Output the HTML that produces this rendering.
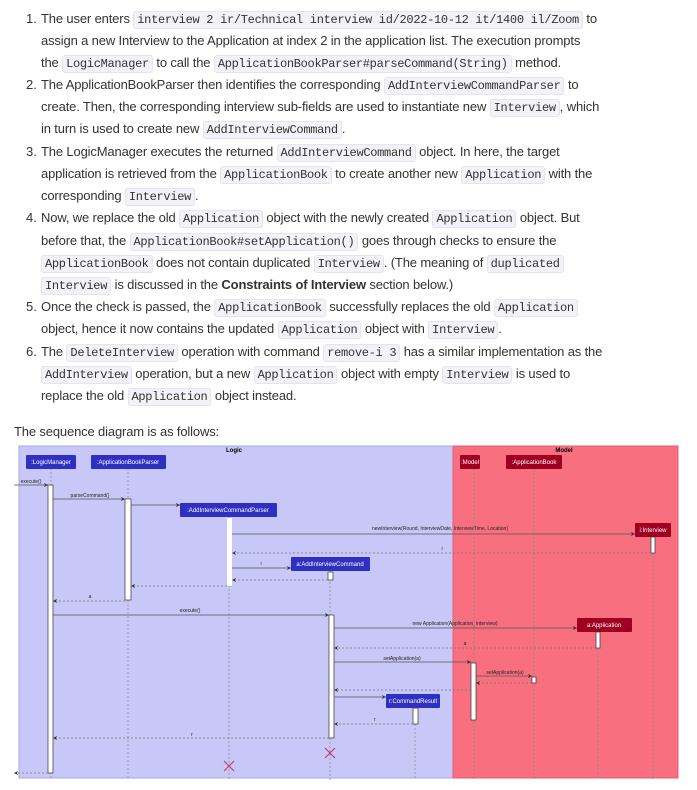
<!DOCTYPE html>
<html><head><meta charset="utf-8"><style>
body{margin:0;background:#fff;width:697px;height:790px;overflow:hidden;position:relative;font-family:"Liberation Sans",sans-serif;color:#333;}
.l{position:absolute;left:41px;font-size:13px;white-space:nowrap;line-height:16px;letter-spacing:-0.15px}
.n{position:absolute;left:26px;font-size:13px;line-height:16px}
code{font-family:"Liberation Mono",monospace;font-size:12px;background:#f2f2f8;border:1px solid #e4e4ee;border-radius:3px;padding:1px 3px;letter-spacing:-0.3px;color:#333}
</style></head><body>
<div class="n" style="top:11px">1.</div>
<div class="l" style="top:11px">The user enters <code>interview 2 ir/Technical interview id/2022-10-12 it/1400 il/Zoom</code> to</div>
<div class="l" style="top:33px">assign a new Interview to the Application at index 2 in the application list. The execution prompts</div>
<div class="l" style="top:55px">the <code>LogicManager</code> to call the <code>ApplicationBookParser#parseCommand(String)</code> method.</div>
<div class="n" style="top:77px">2.</div>
<div class="l" style="top:77px">The ApplicationBookParser then identifies the corresponding <code>AddInterviewCommandParser</code> to</div>
<div class="l" style="top:99px">create. Then, the corresponding interview sub-fields are used to instantiate new <code>Interview</code>, which</div>
<div class="l" style="top:121px">in turn is used to create new <code>AddInterviewCommand</code>.</div>
<div class="n" style="top:144px">3.</div>
<div class="l" style="top:144px">The LogicManager executes the returned <code>AddInterviewCommand</code> object. In here, the target</div>
<div class="l" style="top:166px">application is retrieved from the <code>ApplicationBook</code> to create another new <code>Application</code> with the</div>
<div class="l" style="top:188px">corresponding <code>Interview</code>.</div>
<div class="n" style="top:210px">4.</div>
<div class="l" style="top:210px">Now, we replace the old <code>Application</code> object with the newly created <code>Application</code> object. But</div>
<div class="l" style="top:233px">before that, the <code>ApplicationBook#setApplication()</code> goes through checks to ensure the</div>
<div class="l" style="top:255px"><code>ApplicationBook</code> does not contain duplicated <code>Interview</code>. (The meaning of <code>duplicated</code></div>
<div class="l" style="top:277px"><code>Interview</code> is discussed in the <b>Constraints of Interview</b> section below.)</div>
<div class="n" style="top:299px">5.</div>
<div class="l" style="top:299px">Once the check is passed, the <code>ApplicationBook</code> successfully replaces the old <code>Application</code></div>
<div class="l" style="top:321px">object, hence it now contains the updated <code>Application</code> object with <code>Interview</code>.</div>
<div class="n" style="top:344px">6.</div>
<div class="l" style="top:344px">The <code>DeleteInterview</code> operation with command <code>remove-i 3</code> has a similar implementation as the</div>
<div class="l" style="top:366px"><code>AddInterview</code> operation, but a new <code>Application</code> object with empty <code>Interview</code> is used to</div>
<div class="l" style="top:388px">replace the old <code>Application</code> object instead.</div>
<div class="l" style="top:424px;left:14px">The sequence diagram is as follows:</div>

<svg style="position:absolute;left:0;top:0" width="697" height="790" font-family="Liberation Sans,sans-serif">
<defs><marker id="a" markerWidth="6" markerHeight="6" refX="6" refY="3" orient="auto"><path d="M0,0L6,3L0,6L2,3z" fill="#333"/></marker></defs>
<rect x="19" y="446" width="434" height="332" fill="#c8c8f8" stroke="#a8a8e0"/>
<rect x="453" y="446" width="225" height="332" fill="#f87080" stroke="#e06070"/>
<text x="234" y="452" font-size="6" font-weight="bold" text-anchor="middle">Logic</text>
<text x="564" y="452" font-size="6" font-weight="bold" text-anchor="middle">Model</text>
<g stroke="#888" stroke-dasharray="2,2" stroke-width="0.7">
<line x1="51" y1="468" x2="51" y2="780"/><line x1="128" y1="468" x2="128" y2="780"/>
<line x1="229" y1="517" x2="229" y2="780"/><line x1="330" y1="570" x2="330" y2="780"/>
<line x1="474" y1="469" x2="474" y2="780"/><line x1="534" y1="469" x2="534" y2="780"/>
<line x1="653" y1="537" x2="653" y2="780"/><line x1="598" y1="632" x2="598" y2="780"/>
<line x1="415" y1="708" x2="415" y2="780"/>
</g>
<g font-size="6" fill="#fff" text-anchor="middle">
<rect x="26" y="455" width="50" height="14" fill="#3030c0" rx="1"/><text x="51" y="464">:LogicManager</text>
<rect x="91" y="455" width="75" height="14" fill="#3030c0" rx="1"/><text x="128" y="464">:ApplicationBookParser</text>
<rect x="180" y="503" width="97" height="14" fill="#3030c0" rx="1"/><text x="228" y="512">:AddInterviewCommandParser</text>
<rect x="291" y="557" width="79" height="14" fill="#3030c0" rx="1"/><text x="330" y="566">a:AddInterviewCommand</text>
<rect x="460" y="455" width="20" height="14" fill="#a00020" rx="1"/><text x="470" y="464">:Model</text>
<rect x="506" y="455" width="56" height="14" fill="#a00020" rx="1"/><text x="534" y="464">:ApplicationBook</text>
<rect x="635" y="523" width="36" height="14" fill="#a00020" rx="1"/><text x="653" y="532">i:Interview</text>
<rect x="577" y="618" width="55" height="14" fill="#a00020" rx="1"/><text x="604" y="627">a:Application</text>
<rect x="386" y="694" width="54" height="14" fill="#3030c0" rx="1"/><text x="413" y="703">r:CommandResult</text>
</g>
<g fill="#fff" stroke="#333" stroke-width="0.7">
<rect x="48" y="485" width="5" height="288"/><rect x="125" y="499" width="6" height="101"/>
<rect x="227" y="518" width="5" height="68" stroke="none"/><rect x="328" y="572" width="5" height="8"/>
<rect x="329" y="615" width="5" height="123"/><rect x="471" y="663" width="5" height="57"/>
<rect x="532" y="677" width="4" height="6"/><rect x="651" y="537" width="4" height="16"/>
<rect x="596" y="632" width="4" height="16"/><rect x="413" y="708" width="5" height="16"/>
</g>
<g stroke="#555" stroke-width="0.7" marker-end="url(#a)" fill="none">
<line x1="14" y1="485" x2="48" y2="485"/><line x1="53" y1="499" x2="125" y2="499"/>
<line x1="131" y1="505" x2="180" y2="505"/><line x1="232" y1="534" x2="635" y2="534"/>
<line x1="232" y1="568" x2="291" y2="568"/><line x1="53" y1="615" x2="329" y2="615"/>
<line x1="334" y1="628" x2="577" y2="628"/><line x1="334" y1="662" x2="471" y2="662"/>
<line x1="476" y1="676" x2="532" y2="676"/><line x1="334" y1="697" x2="386" y2="697"/>
</g>
<g stroke="#777" stroke-width="0.7" stroke-dasharray="2,2" marker-end="url(#a)" fill="none">
<line x1="651" y1="553" x2="232" y2="553"/><line x1="328" y1="580" x2="232" y2="580"/>
<line x1="227" y1="586" x2="131" y2="586"/><line x1="125" y1="601" x2="53" y2="601"/>
<line x1="596" y1="648" x2="334" y2="648"/><line x1="532" y1="683" x2="476" y2="683"/>
<line x1="471" y1="690" x2="334" y2="690"/><line x1="413" y1="724" x2="334" y2="724"/>
<line x1="329" y1="738" x2="53" y2="738"/><line x1="48" y1="773" x2="14" y2="773"/>
</g>
<g font-size="5" fill="#222" text-anchor="middle">
<text x="31" y="483">execute()</text><text x="90" y="497">parseCommand()</text>
<text x="440" y="530">newInterview(Round, InterviewDate, InterviewTime, Location)</text>
<text x="442" y="550">i</text><text x="261" y="565">i</text><text x="90" y="598">a</text>
<text x="190" y="612">execute()</text><text x="455" y="625">new Application(Application, interview)</text>
<text x="465" y="645">a</text><text x="402" y="660">setApplication(a)</text>
<text x="505" y="674">setApplication(a)</text><text x="375" y="721">r</text><text x="192" y="736">r</text>
</g>
<g stroke="#c03060" stroke-width="1">
<path d="M325,748L335,758M335,748L325,758"/><path d="M224,761L234,771M234,761L224,771"/>
</g>
</svg>
</body></html>
